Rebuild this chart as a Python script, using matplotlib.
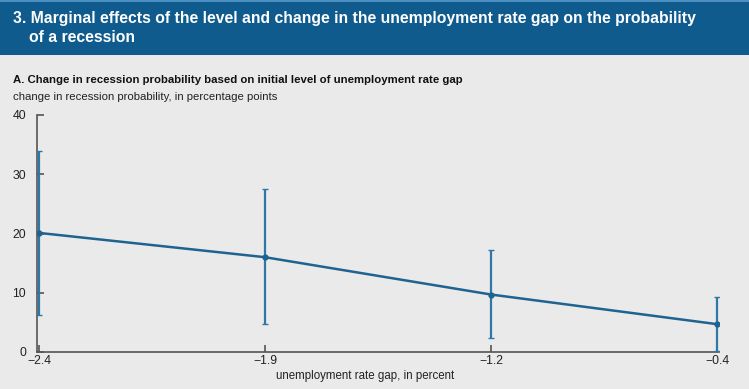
import matplotlib.pyplot as plt
import matplotlib.patches as patches
import numpy as np

plt.rcParams['font.family'] = ['Liberation Sans', 'DejaVu Sans']

# ---- data ----
gap_labels = ['\u22122.4', '\u22121.9', '\u22121.2', '\u22120.4']
effect = [20.1, 16.0, 9.7, 4.7]
upper = [34.0, 27.5, 17.2, 9.3]
lower = [6.3, 4.7, 2.4, 0.1]
y_ticks = [0, 10, 20, 30, 40]

bg = '#ebeaea'
header = '#0f5b8d'
line_col = '#1f6390'
err_col = '#2d78a6'

fig = plt.figure(figsize=(7.49, 3.89), dpi=100, facecolor=bg)

# header band
fig.patches.append(patches.Rectangle((0, 1 - 55 / 389), 1, 53 / 389, transform=fig.transFigure,
                                     facecolor=header, edgecolor='none', zorder=0))
fig.patches.append(patches.Rectangle((0, 1 - 2 / 389), 1, 2 / 389, transform=fig.transFigure,
                                     facecolor='#4a8fc0', edgecolor='none', zorder=0))
fig.text(13 / 749, 1 - 18 / 389, '3. Marginal effects of the level and change in the unemployment rate gap on the probability',
         color='white', fontsize=11.3, fontweight='bold', va='center', ha='left')
fig.text(29 / 749, 1 - 37 / 389, 'of a recession',
         color='white', fontsize=11.3, fontweight='bold', va='center', ha='left')

fig.text(13 / 749, 1 - 80 / 389, 'A. Change in recession probability based on initial level of unemployment rate gap',
         color='#111111', fontsize=8.2, fontweight='bold', va='center', ha='left')
fig.text(13 / 749, 1 - 97 / 389, 'change in recession probability, in percentage points',
         color='#222222', fontsize=8.2, va='center', ha='left')

# axes
ax = fig.add_axes([37 / 749, 1 - 352 / 389, (719 - 37) / 749, (352 - 115) / 389])
ax.set_facecolor(bg)
x = np.arange(len(effect))
eff = np.array(effect)
yerr = [eff - np.array(lower), np.array(upper) - eff]

ax.errorbar(x, eff, yerr=yerr, fmt='none', ecolor=err_col, elinewidth=1.6,
            capsize=2, capthick=1.0, zorder=3)
ax.plot(x, eff, color=line_col, linewidth=1.8, marker='o', markersize=3.5, zorder=4)

ax.set_xlim(-2 / 226, 3 + 2 / 226)
ax.set_ylim(0, 40)
ax.set_xticks(x)
ax.set_xticklabels(gap_labels)
ax.set_yticks(y_ticks)

for s in ['top', 'right']:
    ax.spines[s].set_visible(False)
for s in ['left', 'bottom']:
    ax.spines[s].set_color('#555555')
    ax.spines[s].set_linewidth(1.2)

ax.tick_params(axis='both', direction='in', length=5, width=1.2, color='#555555',
               labelsize=8.8, labelcolor='#222222')
ax.tick_params(axis='y', pad=8)
ax.tick_params(axis='x', pad=2)

# x-axis title sits a bit left of the axes centre in the original
fig.text(365 / 749, 1 - 376 / 389, 'unemployment rate gap, in percent',
         fontsize=8.3, color='#222222', ha='center', va='center')

plt.savefig('out.png', dpi=100, facecolor=bg)
